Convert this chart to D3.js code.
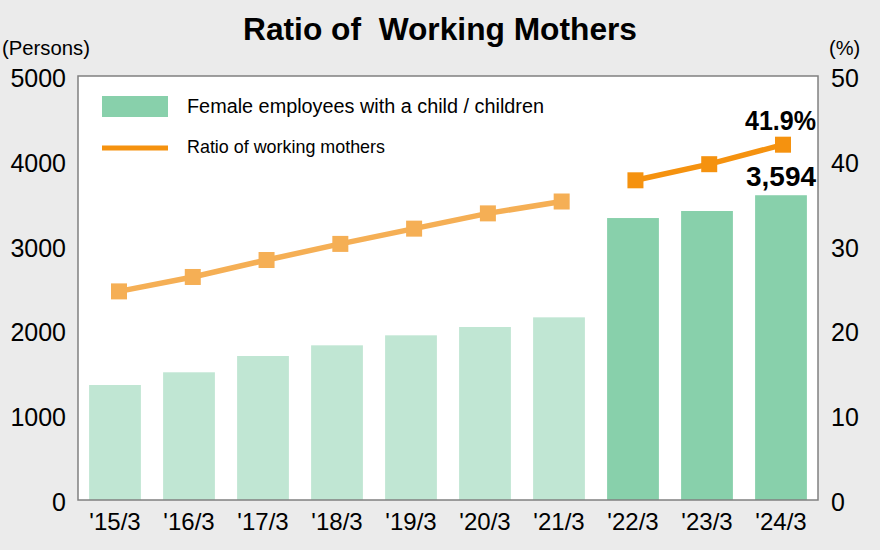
<!DOCTYPE html>
<html>
<head>
<meta charset="utf-8">
<script src="https://cdn.jsdelivr.net/npm/d3@7"></script>
<style>
  html, body { margin: 0; padding: 0; background: #ebebeb; }
  svg { display: block; }
  text { font-family: "Liberation Sans", Arial, sans-serif; fill: #000; }
</style>
</head>
<body>
<svg id="chart" width="880" height="550"></svg>
<script>
const categories = ["'15/3", "'16/3", "'17/3", "'18/3", "'19/3", "'20/3", "'21/3", "'22/3", "'23/3", "'24/3"];
const employees = [1356, 1506, 1698, 1824, 1942, 2040, 2154, 3325, 3408, 3594];
const ratio = [24.6, 26.3, 28.3, 30.2, 32.0, 33.8, 35.2, 37.7, 39.6, 41.9];
const leftTicks = [0, 1000, 2000, 3000, 4000, 5000];
const rightTicks = [0, 10, 20, 30, 40, 50];
const splitIndex = 7; // from '22/3 on, darker colours

const colors = {
  barLight: "#c0e6d3", barDark: "#88d0ab",
  lineLight: "#f5af55", lineDark: "#f5920f",
  bg: "#ebebeb", frame: "#808080"
};

const svg = d3.select("#chart");
const L = 78, R = 818, T = 76, B = 500;

const x = d3.scaleBand().domain(categories).range([L, R]).paddingInner(0.3).paddingOuter(0.15);
const xp = d3.scalePoint().domain(categories)
  .range([x(categories[0]) + x.bandwidth() / 2 + 4, x(categories[categories.length - 1]) + x.bandwidth() / 2 + 2]);
const yL = d3.scaleLinear().domain([0, 5000]).range([B, T]);
const yR = d3.scaleLinear().domain([0, 50]).range([B, T]);

// background
svg.append("rect").attr("width", 880).attr("height", 550).attr("fill", colors.bg);
// plot area
svg.append("rect").attr("x", L).attr("y", T).attr("width", R - L).attr("height", B - T)
  .attr("fill", "#fff");

// title
svg.append("text").attr("x", 440).attr("y", 40).attr("text-anchor", "middle")
  .style("font-family", "'Liberation Sans Narrow', 'Liberation Sans', Arial, sans-serif")
  .style("font-weight", "bold").style("font-size", "32px").style("white-space", "pre")
  .attr("xml:space", "preserve")
  .attr("textLength", 394).attr("lengthAdjust", "spacingAndGlyphs")
  .text("Ratio of  Working Mothers");

svg.append("text").attr("x", 2).attr("y", 55).style("font-size", "20px")
  .attr("textLength", 88).attr("lengthAdjust", "spacingAndGlyphs").text("(Persons)");
svg.append("text").attr("x", 829).attr("y", 55).style("font-size", "20px").text("(%)");

// bars
const data = categories.map((c, i) => ({ c, v: employees[i], r: ratio[i], i }));
svg.append("g").selectAll("rect").data(data).join("rect")
  .attr("x", d => x(d.c)).attr("width", x.bandwidth())
  .attr("y", d => yL(d.v)).attr("height", d => B - yL(d.v))
  .attr("fill", d => d.i < splitIndex ? colors.barLight : colors.barDark);

// frame
svg.append("rect").attr("x", L).attr("y", T).attr("width", R - L).attr("height", B - T)
  .attr("fill", "none").attr("stroke", colors.frame).attr("stroke-width", 1.5);

// axes
const axL = svg.append("g").attr("transform", `translate(${L},0)`)
  .call(d3.axisLeft(yL).tickValues(leftTicks).tickFormat(d3.format("d")).tickSize(0).tickPadding(12));
axL.select(".domain").remove();
axL.selectAll("text").style("font-size", "25px").style("font-family", "'Liberation Sans', Arial, sans-serif")
  .attr("dy", "0.42em").attr("fill", "#000");

const axR = svg.append("g").attr("transform", `translate(${R},0)`)
  .call(d3.axisRight(yR).tickValues(rightTicks).tickFormat(d3.format("d")).tickSize(0).tickPadding(13));
axR.select(".domain").remove();
axR.selectAll("text").style("font-size", "25px").style("font-family", "'Liberation Sans', Arial, sans-serif")
  .attr("dy", "0.42em").attr("fill", "#000");

const axB = svg.append("g").attr("transform", `translate(0,${B})`)
  .call(d3.axisBottom(x).tickSize(0).tickPadding(13));
axB.select(".domain").remove();
axB.selectAll("text").style("font-size", "24px").style("font-family", "'Liberation Sans', Arial, sans-serif")
  .attr("fill", "#000");

// line segments
const line = d3.line().x(d => xp(d.c)).y(d => yR(d.r));
const seg1 = data.slice(0, splitIndex), seg2 = data.slice(splitIndex);
svg.append("path").datum(seg1).attr("d", line).attr("fill", "none")
  .attr("stroke", colors.lineLight).attr("stroke-width", 5.5);
svg.append("path").datum(seg2).attr("d", line).attr("fill", "none")
  .attr("stroke", colors.lineDark).attr("stroke-width", 5.5);

const ms = 16;
svg.append("g").selectAll("rect").data(data).join("rect")
  .attr("x", d => xp(d.c) - ms / 2)
  .attr("y", d => yR(d.r) - ms / 2)
  .attr("width", ms).attr("height", ms)
  .attr("fill", d => d.i < splitIndex ? colors.lineLight : colors.lineDark);

// value labels
const last = data[data.length - 1];
const lx = x(last.c) + x.bandwidth() / 2 + 35;
svg.append("text").attr("x", lx).attr("y", yR(last.r) - 15).attr("text-anchor", "end")
  .style("font-family", "'Liberation Sans Narrow', 'Liberation Sans', Arial, sans-serif")
  .style("font-weight", "bold").style("font-size", "27px")
  .attr("textLength", 71).attr("lengthAdjust", "spacingAndGlyphs")
  .text(d3.format(".1f")(last.r) + "%");
svg.append("text").attr("x", lx).attr("y", yL(last.v) - 9).attr("text-anchor", "end")
  .style("font-family", "'Liberation Sans Narrow', 'Liberation Sans', Arial, sans-serif")
  .style("font-weight", "bold").style("font-size", "27px")
  .attr("textLength", 70).attr("lengthAdjust", "spacingAndGlyphs")
  .text(d3.format(",")(last.v));

// legend
const lg = svg.append("g");
lg.append("rect").attr("x", 102).attr("y", 96).attr("width", 66).attr("height", 21).attr("fill", colors.barDark);
lg.append("text").attr("x", 187).attr("y", 113).style("font-size", "20px")
  .attr("textLength", 357).attr("lengthAdjust", "spacingAndGlyphs")
  .text("Female employees with a child / children");
lg.append("line").attr("x1", 102).attr("x2", 168).attr("y1", 148).attr("y2", 148)
  .attr("stroke", colors.lineDark).attr("stroke-width", 5);
lg.append("text").attr("x", 187).attr("y", 153).style("font-size", "19px")
  .attr("textLength", 198).attr("lengthAdjust", "spacingAndGlyphs")
  .text("Ratio of working mothers");
</script>
</body>
</html>
